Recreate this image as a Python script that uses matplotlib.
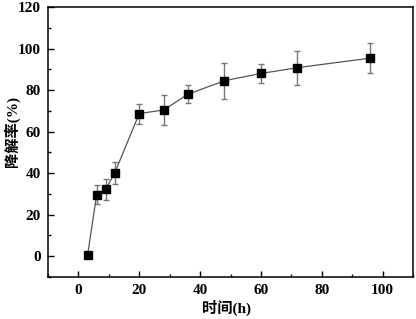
import matplotlib
matplotlib.use('Agg')
import matplotlib.pyplot as plt
from matplotlib.ticker import MultipleLocator

plt.rcParams['font.family'] = ['Liberation Serif', 'Noto Sans CJK SC']

# sampling time (h), degradation rate (%) and its error
time_h = [3, 6, 9, 12, 20, 28, 36, 48, 60, 72, 96]
rate = [0.4, 29.7, 32.2, 40.3, 68.7, 70.4, 78.0, 84.5, 88.0, 90.8, 95.4]
err = [0.0, 4.5, 4.9, 5.3, 4.8, 7.3, 4.4, 8.6, 4.7, 8.2, 7.4]

fig = plt.figure(figsize=(4.16, 3.19), dpi=100)
ax = fig.add_axes([0.1154, 0.1317, 0.8774, 0.8463])

ax.errorbar(time_h, rate, yerr=err, color='#555555', lw=0.9,
            ecolor='#777777', elinewidth=1.0, capsize=2.5, capthick=1.0,
            marker='s', ms=5.5, mfc='black', mec='black', zorder=3)

ax.set_xlim(-10, 110)
ax.set_ylim(-10, 120)
ax.xaxis.set_major_locator(MultipleLocator(20))
ax.xaxis.set_minor_locator(MultipleLocator(10))
ax.yaxis.set_major_locator(MultipleLocator(20))
ax.yaxis.set_minor_locator(MultipleLocator(10))
ax.tick_params(which='both', direction='in', top=False, right=False, width=1.0)
ax.tick_params(which='major', length=4, labelsize=11, pad=5)
ax.tick_params(which='minor', length=2.5)
for lab in ax.get_xticklabels() + ax.get_yticklabels():
    lab.set_fontweight('bold')

for s in ax.spines.values():
    s.set_linewidth(1.1)

ax.set_xlabel('时间(h)', fontsize=11, fontweight='bold', va='center')
ax.set_ylabel('降解率(%)', fontsize=11, fontweight='bold', va='center')
ax.xaxis.set_label_coords(0.49, -0.115)
ax.yaxis.set_label_coords(-0.098, 0.54)

fig.savefig('out.png', dpi=100)
